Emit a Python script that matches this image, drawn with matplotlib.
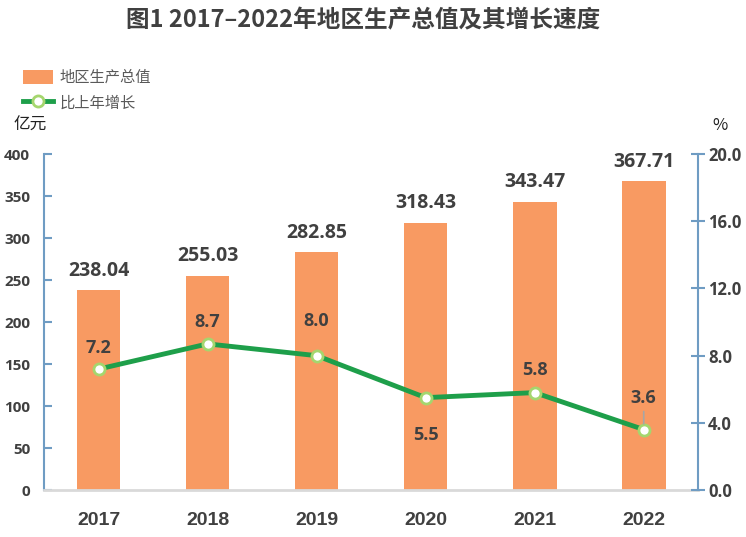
import matplotlib
matplotlib.use("Agg")
import matplotlib.pyplot as plt
from matplotlib.lines import Line2D
from matplotlib.patches import Patch

plt.rcParams['font.family'] = ['Noto Sans CJK SC', 'DejaVu Sans']

# ---- data ----
YEARS = ["2017", "2018", "2019", "2020", "2021", "2022"]
GDP = [238.04, 255.03, 282.85, 318.43, 343.47, 367.71]
GROWTH = [7.2, 8.7, 8.0, 5.5, 5.8, 3.6]
GDP_TICKS = [0, 50, 100, 150, 200, 250, 300, 350, 400]
GROWTH_TICKS = [0.0, 4.0, 8.0, 12.0, 16.0, 20.0]

# ---- colours ----
COL_BAR = "#F89A62"
COL_LINE = "#1E9F4A"
COL_MARK_EDGE = "#A5D66E"
COL_SPINE = "#6F9CC3"
COL_BASE = "#D9D9D9"
COL_TXT = "#404040"
NUM_FONT = ['Open Sans', 'DejaVu Sans']

fig = plt.figure(figsize=(7.46, 5.37), dpi=100)
ax = fig.add_axes([0.059, 0.0875, 0.877, 0.6255])
ax2 = ax.twinx()

x = list(range(len(YEARS)))
ax.bar(x, GDP, width=0.4, color=COL_BAR, zorder=2)
ax.set_xlim(-0.5, len(YEARS) - 0.5)
ax.set_ylim(0, 400)
ax.set_yticks(GDP_TICKS)
ax.set_xticks(x)
ax.set_xticklabels(YEARS, fontsize=14, fontweight="bold", color=COL_TXT,
                   family=['Liberation Sans', 'DejaVu Sans'])
ax.tick_params(axis="x", length=0, pad=16)
ax.tick_params(axis="y", direction="in", length=6, width=1.5, color=COL_SPINE,
               labelsize=11, labelcolor=COL_TXT, pad=10)
for t in ax.get_yticklabels():
    t.set_fontweight("bold")
    t.set_family(NUM_FONT)

for s in ["top", "right"]:
    ax.spines[s].set_visible(False)
for s in ["top", "left", "bottom"]:
    ax2.spines[s].set_visible(False)
ax.spines["left"].set_color(COL_SPINE)
ax.spines["left"].set_linewidth(1.5)
ax.spines["bottom"].set_color(COL_BASE)
ax.spines["bottom"].set_linewidth(2)
ax2.spines["right"].set_color(COL_SPINE)
ax2.spines["right"].set_linewidth(1.5)

# bar value labels
for xi, v in zip(x, GDP):
    ax.annotate(f"{v:.2f}", (xi, v), xytext=(0, 14), textcoords="offset points",
                ha="center", va="center", fontsize=14, fontweight="bold",
                color=COL_TXT, family=NUM_FONT)

ax2.plot(x, GROWTH, color=COL_LINE, linewidth=3.5, marker="o", markersize=8,
         markerfacecolor="white", markeredgecolor=COL_MARK_EDGE,
         markeredgewidth=2, zorder=3)
ax2.set_ylim(0, 20)
ax2.set_yticks(GROWTH_TICKS)
ax2.set_yticklabels([f"{v:.1f}" for v in GROWTH_TICKS])
ax2.tick_params(axis="y", direction="inout", length=10, width=1.5,
                color=COL_SPINE, labelsize=12, labelcolor=COL_TXT, pad=2)
for t in ax2.get_yticklabels():
    t.set_fontweight("bold")
    t.set_family(NUM_FONT)

# growth labels: offsets in points (above / below)
offsets = [15, 16, 25, -27, 16, 23]
for xi, v, off in zip(x, GROWTH, offsets):
    ax2.annotate(f"{v:.1f}", (xi, v), xytext=(0, off), textcoords="offset points",
                 ha="center", va="center", fontsize=13, fontweight="bold",
                 color=COL_TXT, family=NUM_FONT)
# leader line for last label
ax2.annotate("", (x[-1], GROWTH[-1]), xytext=(0, 13), textcoords="offset points",
             arrowprops=dict(arrowstyle="-", color="#A6A6A6", lw=1.2,
                             shrinkA=0, shrinkB=4))

# units
fig.text(0.018, 0.767, "亿元", fontsize=12, color="#222222", ha="left", va="center")
fig.text(0.976, 0.767, "%", fontsize=12, color="#222222", ha="right", va="center")

# title
fig.text(0.487, 0.962, "图1 2017–2022年地区生产总值及其增长速度", ha="center",
         va="center", fontsize=17, fontweight="bold", color=COL_TXT)

# legend
handles = [
    Patch(facecolor=COL_BAR, edgecolor="none", label="地区生产总值"),
    Line2D([0], [0], color=COL_LINE, linewidth=3.5, marker="o", markersize=8,
           markerfacecolor="white", markeredgecolor=COL_MARK_EDGE,
           markeredgewidth=2, label="比上年增长"),
]
leg = fig.legend(handles=handles, loc="upper left", bbox_to_anchor=(0.012, 0.897),
                 frameon=False, fontsize=11, handlelength=2.0, handleheight=1.0,
                 labelspacing=0.55, handletextpad=0.4)
for t in leg.get_texts():
    t.set_color("#595959")

fig.savefig("out.png", dpi=100, facecolor="white")
